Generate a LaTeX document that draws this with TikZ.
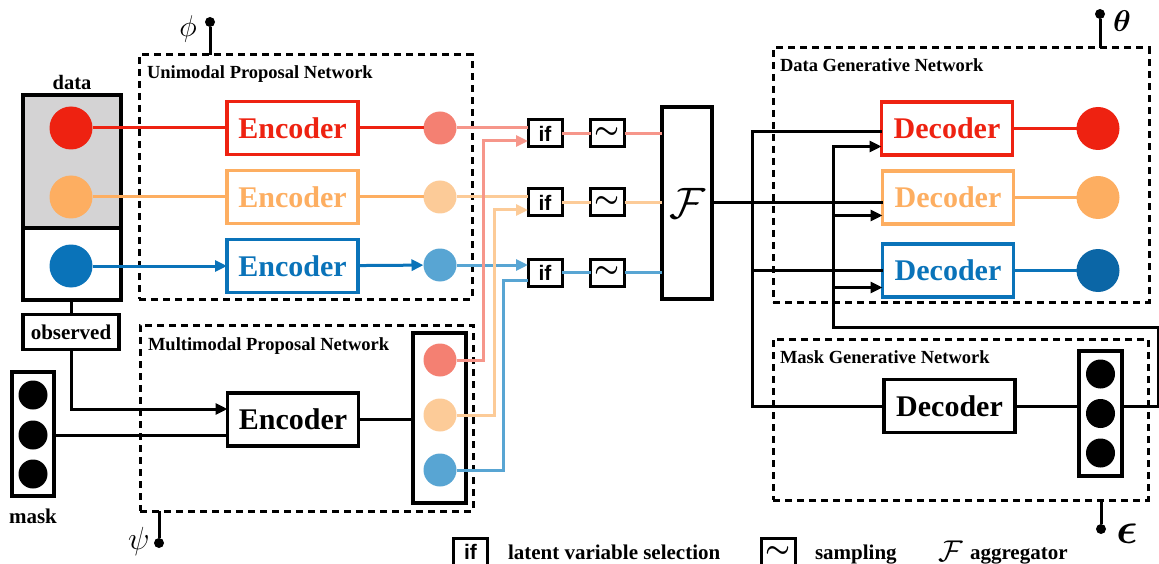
\RequirePackage{fix-cm}
\documentclass[tikz,border=0pt]{standalone}
\usepackage{amsmath}
\usepackage{fontspec}
\setmainfont{Liberation Serif}
\newfontfamily\sansfnt{Liberation Sans}
\usetikzlibrary{arrows.meta,calc}
\definecolor{cRed}{RGB}{238,34,17}
\definecolor{cOra}{RGB}{253,174,97}
\definecolor{cBlu}{RGB}{10,115,185}
\definecolor{cBluD}{RGB}{11,102,166}
\definecolor{cSal}{RGB}{244,128,114}
\definecolor{cSalL}{RGB}{246,150,138}
\definecolor{cPea}{RGB}{252,203,152}
\definecolor{cLBl}{RGB}{88,165,211}
\definecolor{dgrey}{RGB}{212,211,212}
\begin{document}
\begin{tikzpicture}[x=1pt,y=-1pt,
  every node/.style={inner sep=0pt, outer sep=0pt},
  con/.style={line width=3pt},
  arr/.style={-{Triangle[length=12pt,width=11pt]}},
  codec/.style={draw, line width=3.2pt, fill=white, minimum width=131pt, minimum height=53pt, font=\fontsize{30}{32}\selectfont\bfseries},
  netbox/.style={draw, line width=3pt, dash pattern=on 7pt off 5pt, anchor=north west, minimum width=#1},
  netlabel/.style={font=\fontsize{18.5}{20}\selectfont\bfseries, anchor=base west},
  ball/.style={circle, minimum size=#1, fill},
  smallbox/.style={draw, line width=3pt, minimum width=34pt, minimum height=27pt, fill=white},
  pindot/.style={circle, fill, minimum size=10pt},
  txt/.style={font=\fontsize{21}{23}\selectfont\bfseries},
  iftxt/.style={font=\fontsize{21}{23}\selectfont\sansfnt\bfseries},
  tilde/.style={font=\fontsize{28}{30}\selectfont},
  plainbox/.style={draw, line width=3.2pt, anchor=north west},
]
\useasboundingbox (0,0) rectangle (1159,564);

% ---- network frames
\node[netbox=333pt, minimum height=244pt] (uni) at (139,55) {};
\node[netlabel] (unil) at (147,79) {Unimodal Proposal Network};
\node[netbox=333pt, minimum height=186pt] (multi) at (140,325) {};
\node[netlabel] (multil) at (148,350) {Multimodal Proposal Network};
\node[netbox=376pt, minimum height=254pt] (dgn) at (773,48) {};
\node[netlabel] (dgnl) at (780,72) {Data Generative Network};
\node[netbox=375pt, minimum height=161pt] (mgn) at (773,339) {};
\node[netlabel] (mgnl) at (780,363) {Mask Generative Network};

% ---- data
\node[txt, anchor=base, font=\fontsize{20.5}{22}\selectfont\bfseries] (datalab) at (72,90) {data};
\node[plainbox, fill=dgrey, minimum width=98pt, minimum height=133pt] (dtop) at (23,95) {};
\node[plainbox, fill=white, minimum width=98pt, minimum height=72pt] (dbot) at (23,228) {};
\node[ball=43pt, cRed] (d1) at (71,128) {};
\node[ball=43pt, cOra] (d2) at (71,197) {};
\node[ball=43pt, cBlu] (d3) at (71,266) {};
\node[draw, line width=3.2pt, minimum width=96pt, minimum height=35pt, txt] (obs) at (71,332) {observed};
\draw[con] (obs.north) -- (obs.north |- dbot.south);

% ---- mask
\node[plainbox, minimum width=42pt, minimum height=124pt] (maskbox) at (12,372) {};
\node[ball=29pt, black] (m1) at (33,395) {};
\node[ball=29pt, black] (m2) at (33,435) {};
\node[ball=29pt, black] (m3) at (33,474) {};
\node[txt, anchor=base] (masklab) at (33,523) {mask};

% ---- multimodal encoder
\node[codec] (menc) at (293,419.5) {Encoder};
\coordinate (min1) at ([yshift=10.5pt]menc.west);
\coordinate (min2) at ([yshift=-15.5pt]menc.west);
\draw[con,arr] (obs.south) |- (min1);
\draw[con] (maskbox.east |- min2) -- (min2);
\node[plainbox, minimum width=53pt, minimum height=170pt] (mcol) at (413,333) {};
\node[ball=33pt, cSal] (mc1) at (440,360) {};
\node[ball=33pt, cPea] (mc2) at (440,415) {};
\node[ball=33pt, cLBl] (mc3) at (440,470) {};
\draw[con] (menc.east) -- (menc.east -| mcol.west);

% ---- unimodal encoders
\node[codec, draw=cRed, text=cRed] (e1) at (292.5,128) {Encoder};
\node[codec, draw=cOra, text=cOra] (e2) at (292.5,197) {Encoder};
\node[codec, draw=cBlu, text=cBlu] (e3) at (292.5,266) {Encoder};
\node[ball=33pt, cSal] (s1) at (440,128) {};
\node[ball=33pt, cPea] (s2) at (440,197) {};
\node[ball=33pt, cLBl] (s3) at (440,265) {};
\draw[con,cRed] (d1) -- (e1);
\draw[con,cRed] (e1) -- (s1);
\draw[con,cOra] (d2) -- (e2);
\draw[con,cOra] (e2) -- (s2);
\draw[con,cBlu,arr] (d3) -- (e3);
\draw[con,cBlu,arr] (e3) -- (s3);

% ---- selection / sampling
\node[smallbox, iftxt] (if1) at (545,133.5) {if};
\node[smallbox, iftxt] (if2) at (545,202.5) {if};
\node[smallbox, iftxt] (if3) at (545,272.5) {if};
\node[smallbox, tilde] (t1) at (607.5,133.5) {$\boldsymbol{\sim}$};
\node[smallbox, tilde] (t2) at (607.5,202.5) {$\boldsymbol{\sim}$};
\node[smallbox, tilde] (t3) at (607.5,272.5) {$\boldsymbol{\sim}$};
\node[draw, line width=3.2pt, minimum width=50pt, minimum height=192pt, font=\fontsize{44}{46}\selectfont] (F) at (687,203) {$\mathcal{F}$};

\draw[con,cSalL] (s1) -- (s1 -| if1.west);
\draw[con,cPea] (s2) -- (s2 -| if2.west);
\draw[con,cLBl,arr] (s3) -- (s3 -| if3.west);

\coordinate (xa) at (483,0);
\coordinate (xb) at (494,0);
\coordinate (xc) at (503,0);
\coordinate (j1) at ([yshift=-7.5pt]if1.west);
\coordinate (j2) at ([yshift=-7.5pt]if2.west);
\coordinate (j3) at ([yshift=-7.5pt]if3.west);
\draw[con,cSalL,arr] (mc1.east) -| (xa |- j1) -- (j1);
\draw[con,cPea,arr] (mc2.east) -| (xb |- j2) -- (j2);
\draw[con,cLBl] (mc3.east) -| (xc |- j3) -- (j3);

\draw[con,cSalL] (if1) -- (t1);
\draw[con,cPea] (if2) -- (t2);
\draw[con,cLBl] (if3) -- (t3);
\draw[con,cSalL] (t1) -- (t1 -| F.west);
\draw[con,cPea] (t2) -- (t2 -| F.west);
\draw[con,cLBl] (t3) -- (t3 -| F.west);

% ---- decoders
\node[codec, draw=cRed, text=cRed] (dec1) at (947,128.5) {Decoder};
\node[codec, draw=cOra, text=cOra] (dec2) at (948,197.5) {Decoder};
\node[codec, draw=cBlu, text=cBlu] (dec3) at (948,270.5) {Decoder};
\node[ball=43pt, cRed] (o1) at (1098,128.5) {};
\node[ball=43pt, cOra] (o2) at (1098,197.5) {};
\node[ball=43pt, cBluD] (o3) at (1098,270.5) {};
\draw[con,cRed] (dec1) -- (o1);
\draw[con,cOra] (dec2) -- (o2);
\draw[con,cBlu] (dec3) -- (o3);

\node[codec] (mdec) at (949.5,406) {Decoder};
\node[plainbox, minimum width=43pt, minimum height=125pt] (mcolr) at (1079,351) {};
\node[ball=29pt, black] (r1) at (1100.5,374) {};
\node[ball=29pt, black] (r2) at (1100.5,413.5) {};
\node[ball=29pt, black] (r3) at (1100.5,453) {};
\draw[con] (mdec) -- (mdec -| mcolr.west);

\coordinate (vx1) at (752,0);
\coordinate (vx2) at (833,0);
\coordinate (re) at (1158,327);
\coordinate (b1) at ([yshift=-3.5pt]dec1.west);
\coordinate (a1) at ([yshift=-18pt]dec1.west);
\coordinate (a2) at ([yshift=-18pt]dec2.west);
\coordinate (a3) at ([yshift=-17pt]dec3.west);
\draw[con] (F.east) -- (F.east -| dec2.west);
\draw[con] (b1) -| (vx1 |- mdec.west) -- (mdec.west);
\draw[con] (vx1 |- dec3.west) -- (dec3.west);
\draw[con,arr] (mcolr.east |- mdec.east) -| (re) -- (vx2 |- re) |- (a1);
\draw[con,arr] (vx2 |- a2) -- (a2);
\draw[con,arr] (vx2 |- a3) -- (a3);

% ---- parameters
\node[pindot] (phid) at (210,22) {};
\draw[con] (phid) -- (phid |- uni.north);
\node[font=\fontsize{30}{32}\selectfont] (phil) at (188,29) {$\phi$};
\node[pindot] (thd) at (1100,14) {};
\draw[con] (thd) -- (thd |- dgn.north);
\node[font=\fontsize{30}{32}\selectfont] (thl) at (1122,21) {$\boldsymbol{\theta}$};
\node[pindot] (psid) at (159,543) {};
\draw[con] (psid) -- (psid |- multi.south);
\node[font=\fontsize{32}{34}\selectfont] (psil) at (139,541) {$\psi$};
\node[pindot] (epsd) at (1101,529) {};
\draw[con] (epsd) -- (epsd |- mgn.south);
\node[font=\fontsize{44}{46}\selectfont] (epsl) at (1127,534) {$\boldsymbol{\epsilon}$};

% ---- legend
\node[smallbox, iftxt, minimum height=28pt] (lif) at (470.5,552) {if};
\node[txt, anchor=base west] (lifl) at (508,559) {latent variable selection};
\node[smallbox, tilde, minimum height=28pt] (lt) at (778.5,552) {$\boldsymbol{\sim}$};
\node[txt, anchor=base west] (ltl) at (815,559) {sampling};
\node[font=\fontsize{30}{32}\selectfont] (lF) at (951,551) {$\mathcal{F}$};
\node[txt, anchor=base west] (lFl) at (970,559) {aggregator};
\end{tikzpicture}
\end{document}
